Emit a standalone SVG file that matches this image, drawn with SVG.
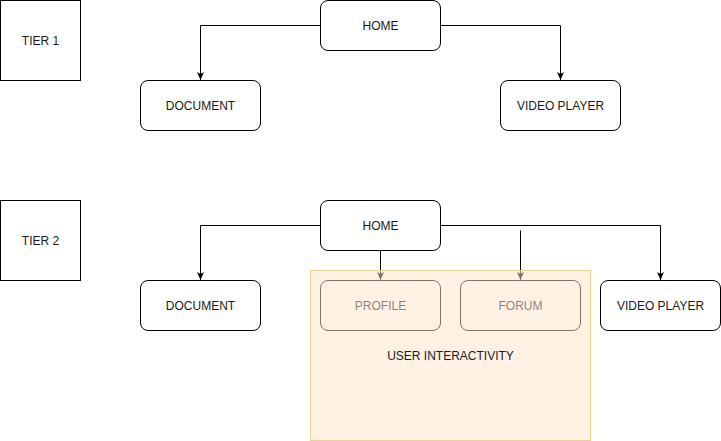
<svg xmlns="http://www.w3.org/2000/svg" width="721" height="441" viewBox="0 0 721 441">
<style>
.box{fill:#ffffff;stroke:#000000;stroke-width:1}
.lbl{font-family:"Liberation Sans",Arial,sans-serif;font-size:12px;fill:#1a1a1a;text-anchor:middle;dominant-baseline:central}
.edge{fill:none;stroke:#000000;stroke-width:1}
</style>
<defs>
<marker id="arr" viewBox="0 0 8 8" refX="8" refY="4" markerWidth="8" markerHeight="8" markerUnits="userSpaceOnUse" orient="auto">
<path d="M0,0.5 L8,4 L0,7.5 L2,4 Z" fill="#000000"/>
</marker>
</defs>
<rect width="721" height="441" fill="#ffffff"/>
<g id="tier1">
<rect class="box" x="0.5" y="0.5" width="80" height="80"/>
<text class="lbl" x="40.5" y="40.5">TIER 1</text>
</g>
<g id="tier2">
<rect class="box" x="0.5" y="200.5" width="80" height="80"/>
<text class="lbl" x="40.5" y="240.5">TIER 2</text>
</g>
<g id="connectors">
<path class="edge" d="M320.5,25.5 H200.5 V80" marker-end="url(#arr)"/>
<path class="edge" d="M440.5,25.5 H560.5 V80" marker-end="url(#arr)"/>
<path class="edge" d="M320.5,225.5 H200.5 V280" marker-end="url(#arr)"/>
<path class="edge" d="M440.5,225.5 H660.5 V280" marker-end="url(#arr)"/>
<path class="edge" d="M380.5,250.5 V280" marker-end="url(#arr)"/>
<path class="edge" d="M520.5,230.5 V280" marker-end="url(#arr)"/>
</g>
<g id="home1">
<rect class="box" x="320.5" y="0.5" width="120" height="50" rx="7.5"/>
<text class="lbl" x="380.5" y="25.5">HOME</text>
</g>
<g id="document1">
<rect class="box" x="140.5" y="80.5" width="120" height="50" rx="7.5"/>
<text class="lbl" x="200.5" y="105.5">DOCUMENT</text>
</g>
<g id="video1">
<rect class="box" x="500.5" y="80.5" width="120" height="50" rx="7.5"/>
<text class="lbl" x="560.5" y="105.5">VIDEO PLAYER</text>
</g>
<g id="home2">
<rect class="box" x="320.5" y="200.5" width="120" height="50" rx="7.5"/>
<text class="lbl" x="380.5" y="225.5">HOME</text>
</g>
<g id="document2">
<rect class="box" x="140.5" y="280.5" width="120" height="50" rx="7.5"/>
<text class="lbl" x="200.5" y="305.5">DOCUMENT</text>
</g>
<g id="profile">
<rect class="box" x="320.5" y="280.5" width="120" height="50" rx="7.5"/>
<text class="lbl" x="380.5" y="305.5">PROFILE</text>
</g>
<g id="forum">
<rect class="box" x="460.5" y="280.5" width="120" height="50" rx="7.5"/>
<text class="lbl" x="520.5" y="305.5">FORUM</text>
</g>
<g id="video2">
<rect class="box" x="600.5" y="280.5" width="120" height="50" rx="7.5"/>
<text class="lbl" x="660.5" y="305.5">VIDEO PLAYER</text>
</g>
<g id="user-interactivity">
<rect x="310.5" y="270.5" width="280" height="170" fill="#ffe6cc" fill-opacity="0.5" stroke="#f0d08a" stroke-width="1"/>
<text class="lbl" x="450.5" y="355.5">USER INTERACTIVITY</text>
</g>
</svg>
